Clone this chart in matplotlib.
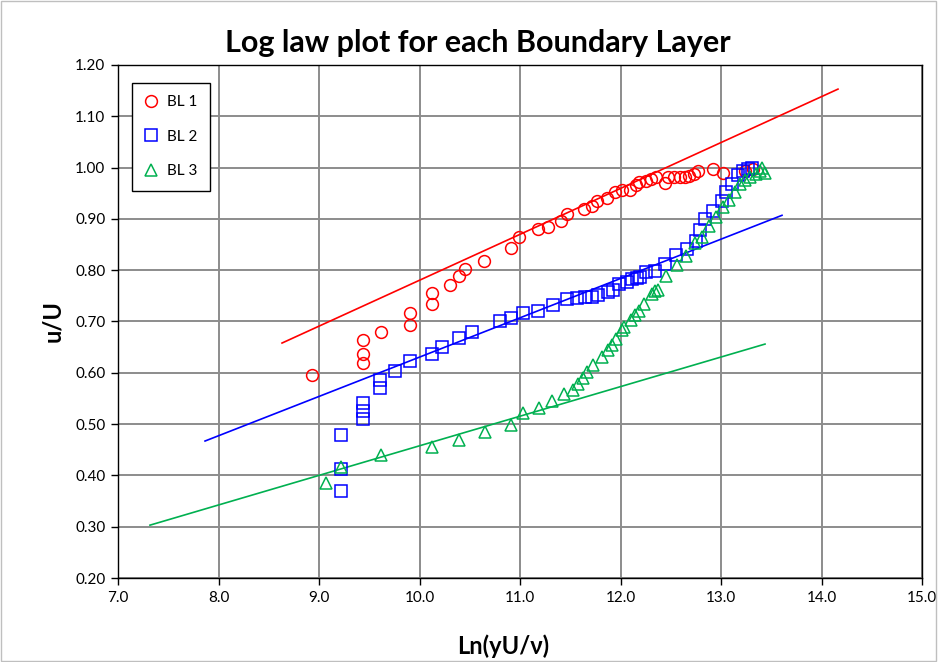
import matplotlib
matplotlib.use("Agg")
import matplotlib.pyplot as plt
from matplotlib.patches import Rectangle

# ---- data ----
bl1_x = [8.927, 9.441, 9.441, 9.441, 9.614, 9.909, 9.909, 10.121, 10.121, 10.30,
         10.39, 10.456, 10.645, 10.907, 10.993, 11.18, 11.28, 11.41, 11.47, 11.637,
         11.713, 11.763, 11.87, 11.945, 12.01, 12.09, 12.154, 12.187, 12.254, 12.30,
         12.353, 12.443, 12.476, 12.53, 12.59, 12.64, 12.685, 12.73, 12.774, 12.917,
         13.02, 13.24, 13.32]
bl1_y = [0.596, 0.619, 0.636, 0.664, 0.680, 0.693, 0.716, 0.734, 0.756, 0.772,
         0.788, 0.802, 0.818, 0.844, 0.865, 0.880, 0.884, 0.896, 0.909, 0.920,
         0.925, 0.934, 0.941, 0.953, 0.957, 0.957, 0.966, 0.971, 0.973, 0.977,
         0.981, 0.970, 0.981, 0.981, 0.981, 0.982, 0.983, 0.987, 0.993, 0.997,
         0.990, 0.993, 0.997]

bl2_x = [9.216, 9.216, 9.216, 9.441, 9.441, 9.441, 9.61, 9.61, 9.76, 9.909,
         10.121, 10.224, 10.39, 10.52, 10.80, 10.907, 11.033, 11.18, 11.33, 11.465,
         11.564, 11.647, 11.713, 11.78, 11.88, 11.93, 11.99, 12.06, 12.11, 12.16,
         12.194, 12.25, 12.34, 12.44, 12.55, 12.66, 12.75, 12.79, 12.84, 12.92,
         13.01, 13.05, 13.11, 13.17, 13.22, 13.27, 13.305]
bl2_y = [0.370, 0.412, 0.478, 0.510, 0.526, 0.542, 0.571, 0.586, 0.604, 0.623,
         0.637, 0.650, 0.667, 0.680, 0.700, 0.706, 0.717, 0.721, 0.732, 0.743,
         0.745, 0.748, 0.748, 0.752, 0.758, 0.762, 0.773, 0.777, 0.782, 0.785,
         0.787, 0.797, 0.799, 0.812, 0.829, 0.842, 0.857, 0.879, 0.899, 0.915,
         0.934, 0.953, 0.969, 0.985, 0.994, 0.998, 1.000]

bl3_x = [9.067, 9.216, 9.62, 10.124, 10.39, 10.652, 10.91, 11.03, 11.189, 11.315,
         11.438, 11.53, 11.574, 11.624, 11.67, 11.73, 11.813, 11.88, 11.912, 11.955,
         12.012, 12.035, 12.10, 12.14, 12.18, 12.234, 12.31, 12.34, 12.37, 12.45,
         12.56, 12.65, 12.74, 12.81, 12.88, 12.95, 13.017, 13.08, 13.14, 13.19,
         13.24, 13.29, 13.35, 13.39, 13.41, 13.44]
bl3_y = [0.386, 0.417, 0.439, 0.455, 0.469, 0.485, 0.498, 0.521, 0.532, 0.545,
         0.558, 0.566, 0.579, 0.589, 0.602, 0.615, 0.631, 0.644, 0.654, 0.665,
         0.684, 0.689, 0.703, 0.712, 0.721, 0.734, 0.754, 0.759, 0.762, 0.789,
         0.810, 0.827, 0.853, 0.865, 0.886, 0.904, 0.923, 0.936, 0.953, 0.968,
         0.975, 0.982, 0.988, 0.994, 1.000, 0.990]

# log-law fit lines (end points)
fit1_x = [8.632, 14.164]
fit1_y = [0.658, 1.153]
fit2_x = [7.866, 13.607]
fit2_y = [0.467, 0.907]
fit3_x = [7.318, 13.438]
fit3_y = [0.303, 0.656]

x_ticks = [7.0, 8.0, 9.0, 10.0, 11.0, 12.0, 13.0, 14.0, 15.0]
y_ticks = [0.20, 0.30, 0.40, 0.50, 0.60, 0.70, 0.80, 0.90, 1.00, 1.10, 1.20]

red = "#ff0000"
blue = "#0000ff"
green = "#00b050"

plt.rcParams['font.family'] = ['Lato', 'DejaVu Sans']

fig = plt.figure(figsize=(9.38, 6.62), dpi=100)
ax = fig.add_axes([118/938, 1-578/662, (922-118)/938, (578-65)/662])

fig.patches.append(Rectangle((0.001, 0.001), 0.997, 0.997, transform=fig.transFigure,
                             fill=False, edgecolor="#bfbfbf", linewidth=1.0))

ax.plot(fit1_x, fit1_y, color=red, lw=1.2, zorder=2)
ax.plot(fit2_x, fit2_y, color=blue, lw=1.2, zorder=2)
ax.plot(fit3_x, fit3_y, color=green, lw=1.2, zorder=2)

ax.plot(bl1_x, bl1_y, linestyle='none', marker='o', ms=8.5, mfc='none', mec=red,
        mew=1.1, label='BL 1', zorder=3)
ax.plot(bl2_x, bl2_y, linestyle='none', marker='s', ms=8, mfc='none', mec=blue,
        mew=1.1, label='BL 2', zorder=3)
ax.plot(bl3_x, bl3_y, linestyle='none', marker='^', ms=8.5, mfc='none', mec=green,
        mew=1.1, label='BL 3', zorder=3)

ax.set_xlim(7.0, 15.0)
ax.set_ylim(0.20, 1.20)
ax.set_xticks(x_ticks)
ax.set_yticks(y_ticks)
ax.set_xticklabels([f"{v:.1f}" for v in x_ticks])
ax.set_yticklabels([f"{v:.2f}" for v in y_ticks])
ax.tick_params(axis='both', direction='out', length=5, width=1, labelsize=11, pad=4)
ax.grid(True, color="#8c8c8c", linewidth=1.4)
ax.set_axisbelow(True)
for s in ax.spines.values():
    s.set_color('black')
    s.set_linewidth(1.0)

ax.set_title("Log law plot for each Boundary Layer", fontsize=22, fontweight='bold',
             pad=9, x=(478-118)/804)
ax.set_xlabel("Ln(yU/ν)", fontsize=17, fontweight='bold')
ax.xaxis.set_label_coords((503-118)/804, -(634-578)/513)
ax.set_ylabel("u/U", fontsize=17, fontweight='bold', labelpad=8)

leg = ax.legend(loc='upper left', bbox_to_anchor=(14/804, 1-18/513), fontsize=11,
                frameon=True, fancybox=False, edgecolor='black', framealpha=1,
                borderpad=0.8, labelspacing=1.35, handlelength=0.9, handletextpad=0.6,
                borderaxespad=0)
leg.get_frame().set_linewidth(1.0)

fig.savefig("out.png", dpi=100)
